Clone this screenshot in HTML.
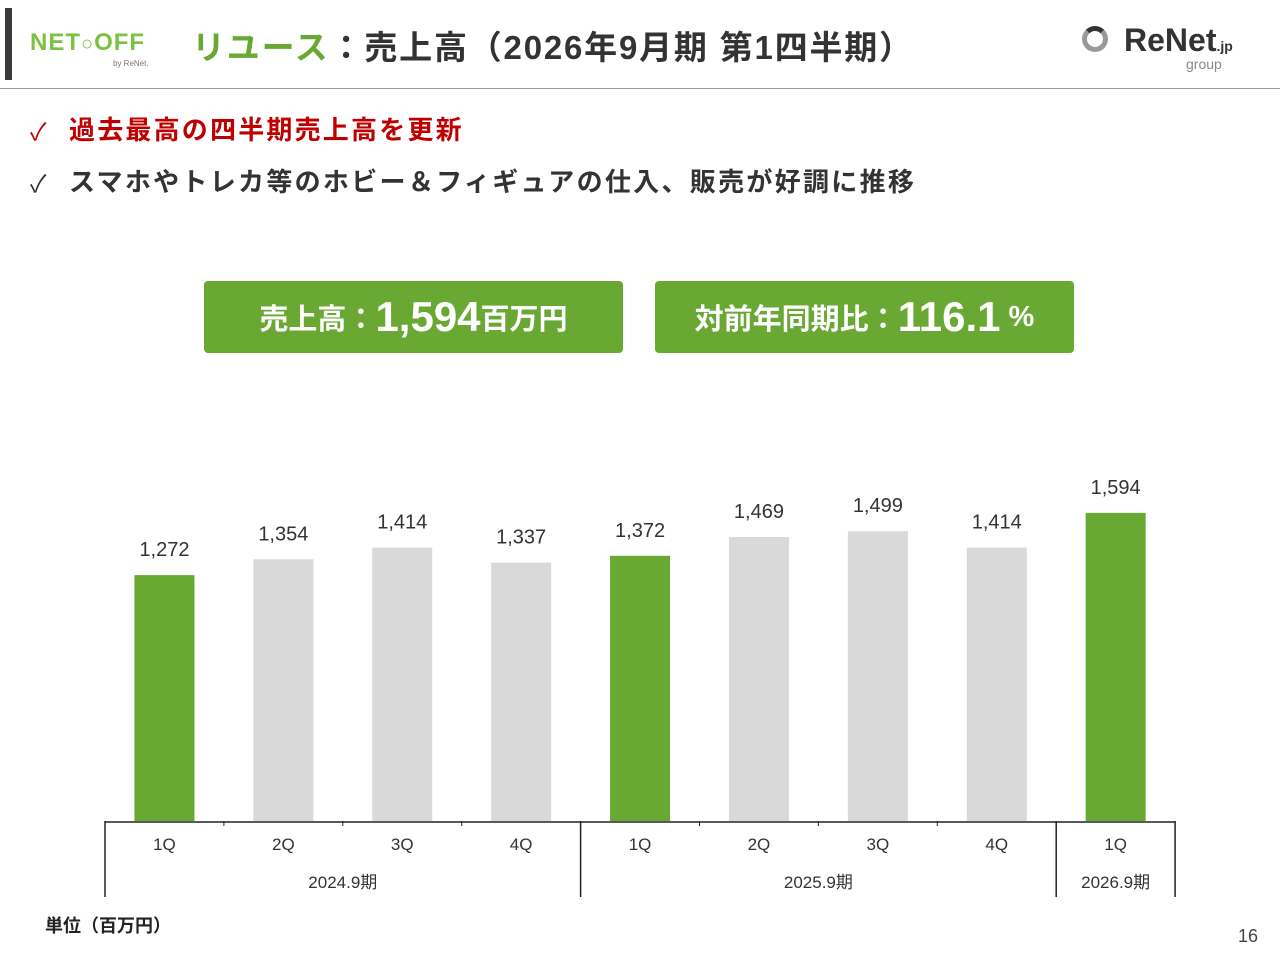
<!DOCTYPE html>
<html><head><meta charset="utf-8"><style>
body{margin:0;width:1280px;height:960px;background:#fff;font-family:"Liberation Sans","Noto Sans CJK JP",sans-serif;position:relative;overflow:hidden}
.abs{position:absolute}
.box{position:absolute;top:281px;height:72px;background:#6aa834;border-radius:4px;color:#fff;font-weight:bold;display:flex;align-items:center;justify-content:center;white-space:nowrap}
</style></head><body>
<div class="abs" style="left:5px;top:8px;width:7px;height:72px;background:#3a3a3a"></div>
<div class="abs" style="left:30px;top:28px;width:130px;height:45px">
 <div style="font-weight:900;font-size:24px;color:#7cc242;letter-spacing:1px;line-height:30px">NET<span style="font-size:20px">○</span>OFF</div>
 <div style="font-size:8px;color:#777;margin-left:83px">by ReNet.</div>
</div>
<div class="abs" style="left:192px;top:21px;font-size:33px;font-weight:bold;color:#333;white-space:nowrap;letter-spacing:1.8px"><span style="color:#6aa834">リユース</span>：売上高（2026年9月期 第1四半期）</div>
<div class="abs" style="left:1082px;top:22px;width:180px;height:52px">
 <div style="position:absolute;left:0;top:4px;width:26px;height:26px;border:5px solid #999;border-radius:50%;box-sizing:border-box;border-top-color:#333"></div>
 <div style="position:absolute;left:42px;top:0;font-size:32px;font-weight:900;color:#333">ReNet<span style="font-size:14px">.jp</span></div>
 <div style="position:absolute;left:104px;top:34px;font-size:14px;color:#888">group</div>
</div>
<div class="abs" style="left:0;top:88px;width:1280px;height:1px;background:#999"></div>
<div class="abs" style="left:30px;top:112px;font-size:24px;color:#c00000">✓</div>
<div class="abs" style="left:69px;top:110px;font-size:26px;font-weight:bold;color:#c00000;white-space:nowrap;letter-spacing:2.2px">過去最高の四半期売上高を更新</div>
<div class="abs" style="left:30px;top:164px;font-size:24px;color:#333">✓</div>
<div class="abs" style="left:69px;top:162px;font-size:26px;font-weight:bold;color:#333;white-space:nowrap;letter-spacing:2.3px">スマホやトレカ等のホビー＆フィギュアの仕入、販売が好調に推移</div>
<div class="box" style="left:204px;width:419px;font-size:29px">売上高：<span style="font-size:42px;font-family:'Liberation Sans Narrow','Liberation Sans',sans-serif">1,594</span>百万円</div>
<div class="box" style="left:655px;width:419px;font-size:29px">対前年同期比：<span style="font-size:42px;font-family:'Liberation Sans Narrow','Liberation Sans',sans-serif">116.1</span>&nbsp;%</div>
<svg id="chart" class="abs" style="left:0;top:0" width="1280" height="960"></svg>
<div class="abs" style="left:45px;top:912px;font-size:18px;font-weight:bold;color:#222">単位（百万円）</div>
<div class="abs" style="left:1238px;top:926px;font-size:18px;color:#444">16</div>
<script>
const categories=["1Q","2Q","3Q","4Q","1Q","2Q","3Q","4Q","1Q"];
const values=[1272,1354,1414,1337,1372,1469,1499,1414,1594];
const highlight=[true,false,false,false,true,false,false,false,true];
const groups=["2024.9期","2025.9期","2026.9期"];
const groupSizes=[4,4,1];
const svg=document.getElementById('chart');
const NS="http://www.w3.org/2000/svg";
const x0=105,cw=118.9,base=821,k=0.1933;
const xc=i=>x0+cw*(i+0.5);
const yv=v=>base-v*k;
function mk(t,a){const e=document.createElementNS(NS,t);for(const q in a)e.setAttribute(q,a[q]);svg.appendChild(e);return e;}
values.forEach((v,i)=>{
 const r=mk('rect',{x:xc(i)-30,y:yv(v),width:60,height:base-yv(v),fill:highlight[i]?'#6aa834':'#d9d9d9'});
 
 
 const t=mk('text',{x:xc(i),y:yv(v)-19,'text-anchor':'middle','font-size':20,fill:'#333','font-family':'Liberation Sans, sans-serif'});
 t.textContent=v.toLocaleString('en-US');
 
 
 const c=mk('text',{x:xc(i),y:850,'text-anchor':'middle','font-size':17,fill:'#333','font-family':'Liberation Sans, sans-serif'});
 c.textContent=categories[i];
 
 
});
const ax=mk('line',{x1:x0,x2:x0+cw*9,y1:base+1,y2:base+1,stroke:'#222','stroke-width':1.5});


for(let i=1;i<9;i++)mk('line',{x1:x0+cw*i,x2:x0+cw*i,y1:base,y2:base+5,stroke:'#222'});
let s=0;
mk('line',{x1:x0,x2:x0,y1:base,y2:897,stroke:'#222','stroke-width':1.5});
groups.forEach((g,j)=>{
 const a=s,b=s+groupSizes[j];s=b;
 mk('line',{x1:x0+cw*b,x2:x0+cw*b,y1:base,y2:897,stroke:'#222','stroke-width':1.5});
 const t=mk('text',{x:x0+cw*(a+b)/2,y:888,'text-anchor':'middle','font-size':17,fill:'#333','font-family':'Liberation Sans, Noto Sans CJK JP, sans-serif'});
 t.textContent=g;
 
 
});
</script>
</body></html>
